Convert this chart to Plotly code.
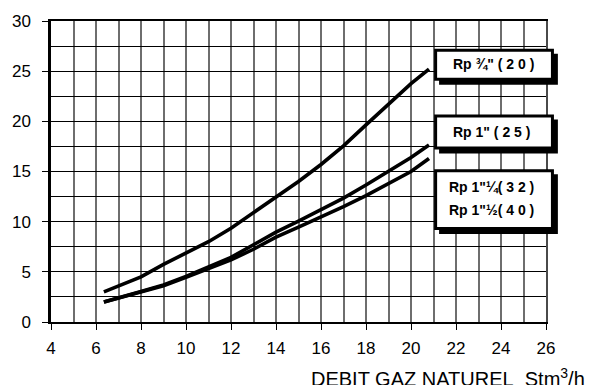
import plotly.graph_objects as go

# Natural-gas flow (Stm3/h) and pressure-loss readings for each pipe size
debit = [6.35, 7, 8, 9, 10, 11, 12, 13, 14, 15, 16, 17, 18, 19, 20, 20.8]
rp_20 = [3.0, 3.6, 4.5, 5.75, 6.85, 8.0, 9.35, 10.9, 12.45, 14.0, 15.7, 17.55, 19.65, 21.75, 23.75, 25.2]
rp_25 = [2.0, 2.45, 3.05, 3.7, 4.55, 5.5, 6.45, 7.7, 8.95, 10.05, 11.2, 12.35, 13.65, 15.0, 16.4, 17.65]
rp_32_40 = [2.0, 2.42, 2.98, 3.62, 4.45, 5.35, 6.2, 7.25, 8.45, 9.45, 10.45, 11.5, 12.6, 13.8, 15.0, 16.3]

series_names = ["Rp ¾\" (20)", "Rp 1\" (25)", "Rp 1\"¼(32) / Rp 1\"½(40)"]
label_texts = [
    ["Rp ¾\" ( 2 0 )"],
    ["Rp 1\" ( 2 5 )"],
    ["Rp 1\"¼( 3 2 )", "Rp 1\"½( 4 0 )"],
]
x_title = "DEBIT GAZ NATUREL\u00a0 Stm<sup>3</sup>/h"

x_range, y_range = [4, 26], [0, 30]

W, H = 598, 385
L, R, T, B = 46, 52, 20, 62.7
PW, PH = W - L - R, H - T - B


def px(x):
    return (x - L) / PW


def py(y):
    return (H - B - y) / PH


fig = go.Figure()
for ys, name in zip([rp_20, rp_25, rp_32_40], series_names):
    fig.add_trace(go.Scatter(
        x=debit, y=ys, mode="lines", name=name,
        line=dict(color="black", width=3.6),
        showlegend=False,
    ))

# Label boxes with a drop shadow, in pixel positions
boxes = [(433, 48, 554, 80), (433, 114, 554, 149), (433, 169, 554, 230)]
shapes = []
for x0, y0, x1, y1 in boxes:
    shapes.append(dict(type="rect", xref="paper", yref="paper",
                       x0=px(x0 + 5), x1=px(x1 + 4), y0=py(y1 + 4), y1=py(y0 + 5),
                       fillcolor="black", line=dict(width=0), layer="above"))
    shapes.append(dict(type="rect", xref="paper", yref="paper",
                       x0=px(x0 + 1.5), x1=px(x1 - 1.5), y0=py(y1 - 1.5), y1=py(y0 + 1.5),
                       fillcolor="white", line=dict(color="black", width=3), layer="above"))

annotations = []
text_rows = [[63.5], [131.5], [187, 210]]
text_left = [450, 450, 446]
for lines, rows, xl in zip(label_texts, text_rows, text_left):
    for t, yc in zip(lines, rows):
        annotations.append(dict(
            x=px(xl), y=py(yc), xref="paper", yref="paper",
            xanchor="left", yanchor="middle", showarrow=False, text="<b>%s</b>" % t,
            font=dict(family="Liberation Sans, Arial", size=14, color="black"),
        ))

annotations.append(dict(
    x=px(307), y=py(363), xref="paper", yref="paper", xanchor="left", yanchor="top",
    showarrow=False, text=x_title,
    font=dict(family="Liberation Sans, Arial", size=20, color="black"),
))

fig.update_layout(
    width=W, height=H,
    margin=dict(l=L, r=R, t=T, b=B, pad=0),
    paper_bgcolor="white", plot_bgcolor="white",
    shapes=shapes, annotations=annotations,
    font=dict(family="Liberation Sans, Arial", size=17, color="black"),
    # labelled axes
    xaxis=dict(
        range=x_range, tick0=4, dtick=2, ticks="outside", ticklen=6, tickcolor="black",
        showgrid=False, showline=True, linecolor="black", linewidth=1.5,
        zeroline=False, ticklabelstandoff=4,
    ),
    yaxis=dict(
        range=y_range, tick0=0, dtick=5, ticks="outside", ticklen=6, tickcolor="black",
        showgrid=False, showline=True, linecolor="black", linewidth=2.5,
        zeroline=False, ticklabelstandoff=8,
    ),
    # grid-only axes: every unit of flow, every 2.5 of loss, plus top/right borders
    xaxis2=dict(
        range=x_range, tick0=4, dtick=1, overlaying="x", side="top",
        showticklabels=False, ticks="", showgrid=True, gridcolor="#6e6e6e", gridwidth=1.6,
        showline=True, linecolor="black", linewidth=1.5, zeroline=False, layer="below traces",
    ),
    yaxis2=dict(
        range=y_range, tick0=0, dtick=2.5, overlaying="y", side="right",
        showticklabels=False, ticks="", showgrid=True, gridcolor="black", gridwidth=1.4,
        showline=True, linecolor="#4a4a4a", linewidth=1.5, zeroline=False, layer="below traces",
    ),
)

# invisible trace so the grid axes are laid out
fig.add_trace(go.Scatter(x=[x_range[0]], y=[y_range[0]], xaxis="x2", yaxis="y2",
                         mode="markers", marker=dict(opacity=0), showlegend=False,
                         hoverinfo="skip"))

fig.write_html("out.html")
